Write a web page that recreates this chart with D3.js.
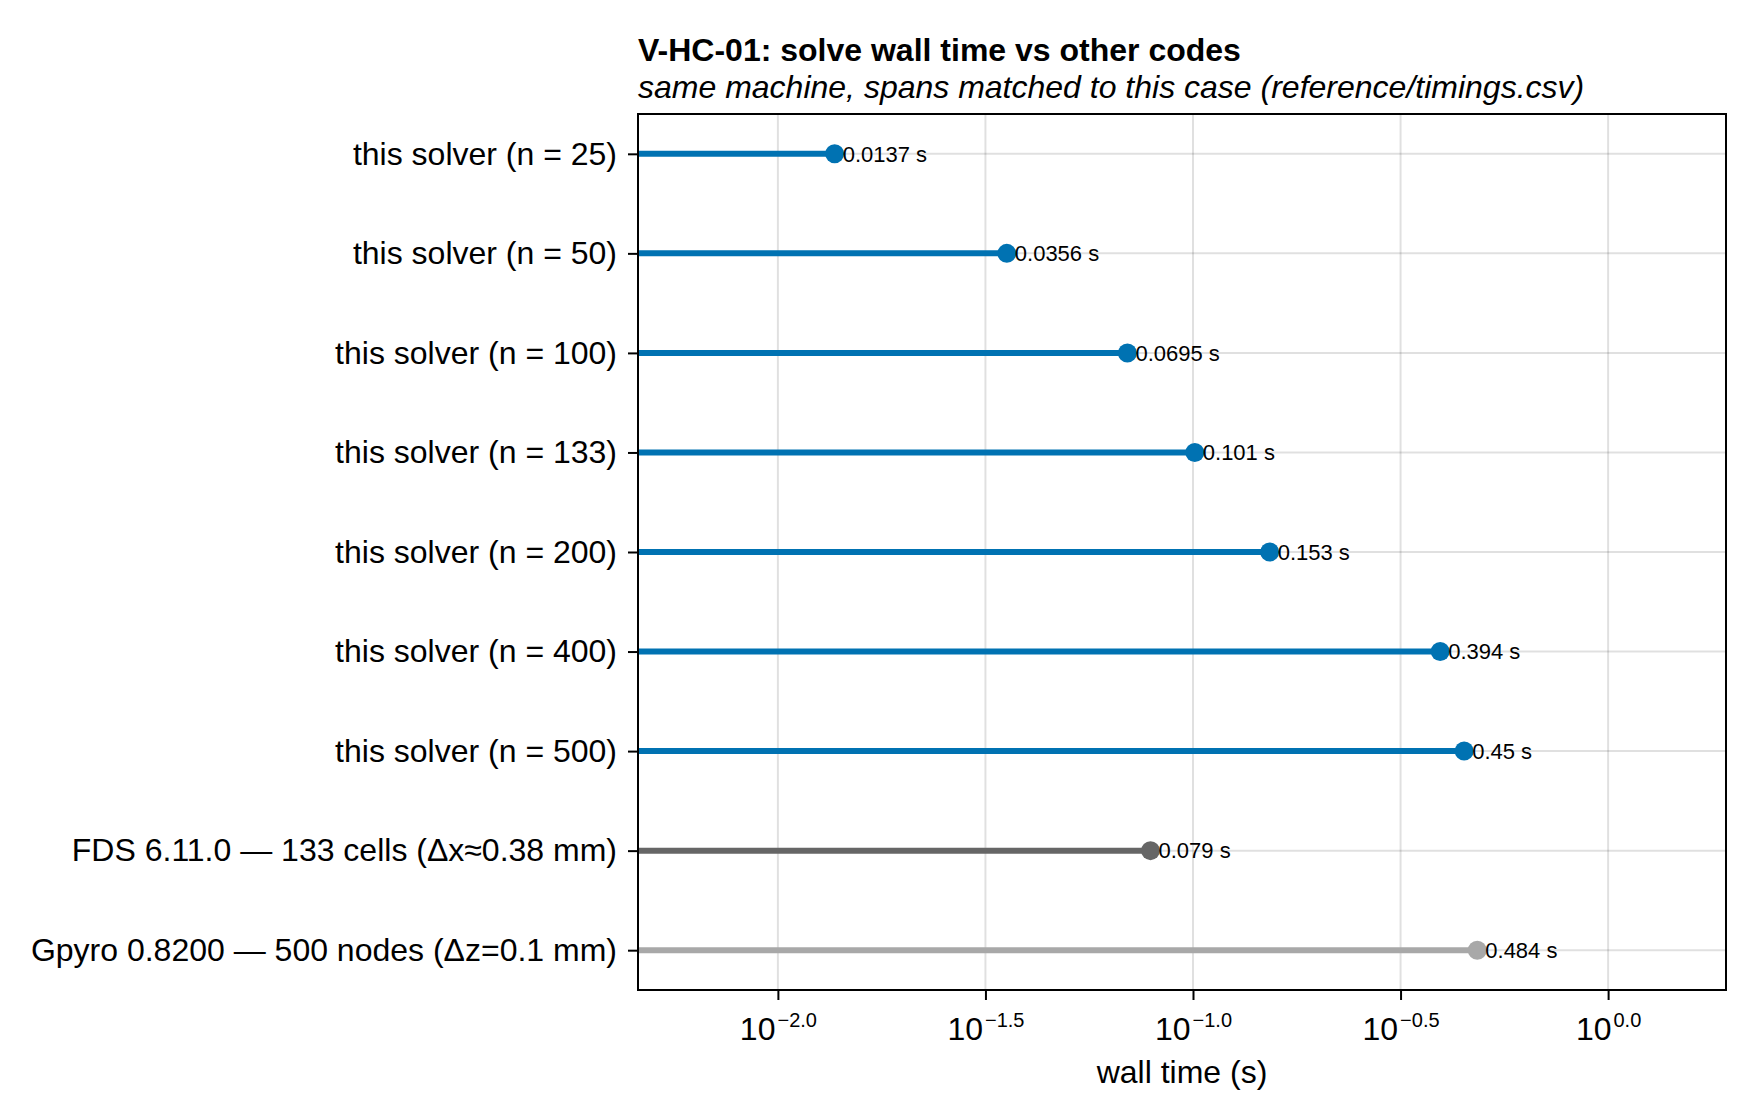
<!DOCTYPE html>
<html>
<head>
<meta charset="utf-8">
<script src="https://cdn.jsdelivr.net/npm/d3@7"></script>
<style>
  body { margin: 0; background: #fff; }
  text { font-family: "Liberation Sans", Arial, Helvetica, sans-serif; }
</style>
</head>
<body>
<div id="chart"></div>
<script>
// wall time per run
var categories = [
  'this solver (n = 25)',
  'this solver (n = 50)',
  'this solver (n = 100)',
  'this solver (n = 133)',
  'this solver (n = 200)',
  'this solver (n = 400)',
  'this solver (n = 500)',
  'FDS 6.11.0 \u2014 133 cells (\u0394x\u22480.38 mm)',
  'Gpyro 0.8200 \u2014 500 nodes (\u0394z=0.1 mm)'
];
var groups = ['solver', 'solver', 'solver', 'solver', 'solver', 'solver', 'solver', 'fds', 'gpyro'];
var wallTimes = [0.0137, 0.0356, 0.0695, 0.101, 0.153, 0.394, 0.45, 0.079, 0.484];
var valueLabels = ['0.0137 s', '0.0356 s', '0.0695 s', '0.101 s', '0.153 s', '0.394 s', '0.45 s', '0.079 s', '0.484 s'];

var xTickExps = [-2, -1.5, -1, -0.5, 0];
var xTickLabels = ['\u22122.0', '\u22121.5', '\u22121.0', '\u22120.5', '0.0'];
var xLimitExps = [-2.337, 0.284];

var groupColors = { solver: '#0072B2', fds: '#666666', gpyro: '#A8A8A8' };

var width = 1760, height = 1120;
var margin = { top: 114, right: 34, bottom: 130, left: 638 };
var innerW = width - margin.left - margin.right;
var innerH = height - margin.top - margin.bottom;

var svg = d3.select('#chart').append('svg')
  .attr('width', width)
  .attr('height', height);

svg.append('rect').attr('width', width).attr('height', height).attr('fill', '#fff');

var g = svg.append('g').attr('transform', 'translate(' + margin.left + ',' + margin.top + ')');

var x = d3.scaleLog()
  .domain(xLimitExps.map(function(e) { return Math.pow(10, e); }))
  .range([0, innerW]);

var y = d3.scalePoint()
  .domain(categories)
  .range([0, innerH])
  .padding(0.4);

var tickVals = xTickExps.map(function(e) { return Math.pow(10, e); });

// grid
g.append('g').selectAll('line.vg')
  .data(tickVals)
  .enter().append('line')
  .attr('x1', function(d) { return x(d); })
  .attr('x2', function(d) { return x(d); })
  .attr('y1', 0).attr('y2', innerH)
  .attr('stroke', 'rgba(0,0,0,0.12)').attr('stroke-width', 2);

g.append('g').selectAll('line.hg')
  .data(categories)
  .enter().append('line')
  .attr('x1', 0).attr('x2', innerW)
  .attr('y1', function(d) { return y(d); })
  .attr('y2', function(d) { return y(d); })
  .attr('stroke', 'rgba(0,0,0,0.12)').attr('stroke-width', 2);

var rows = categories.map(function(c, i) {
  return { cat: c, group: groups[i], value: wallTimes[i], label: valueLabels[i] };
});

// stems
g.append('g').selectAll('line')
  .data(rows)
  .enter().append('line')
  .attr('x1', 0)
  .attr('x2', function(d) { return x(d.value); })
  .attr('y1', function(d) { return y(d.cat); })
  .attr('y2', function(d) { return y(d.cat); })
  .attr('stroke', function(d) { return groupColors[d.group]; })
  .attr('stroke-width', 6);

// dots
g.append('g').selectAll('circle')
  .data(rows)
  .enter().append('circle')
  .attr('cx', function(d) { return x(d.value); })
  .attr('cy', function(d) { return y(d.cat); })
  .attr('r', 9.5)
  .attr('fill', function(d) { return groupColors[d.group]; });

// value labels
g.append('g').selectAll('text')
  .data(rows)
  .enter().append('text')
  .attr('x', function(d) { return x(d.value) + 8; })
  .attr('y', function(d) { return y(d.cat); })
  .attr('dy', '0.35em')
  .attr('font-size', 22)
  .attr('fill', '#000')
  .text(function(d) { return d.label; });

// frame
g.append('rect')
  .attr('width', innerW).attr('height', innerH)
  .attr('fill', 'none').attr('stroke', '#000').attr('stroke-width', 2);

// y axis
var yAxis = g.append('g')
  .call(d3.axisLeft(y).tickSize(10).tickPadding(11));
yAxis.select('.domain').remove();
yAxis.selectAll('.tick line').attr('stroke-width', 2);
yAxis.selectAll('.tick text').attr('font-size', 32).attr('font-family', null).attr('fill', '#000');

// x axis with 10^e labels
var xAxis = g.append('g')
  .attr('transform', 'translate(0,' + innerH + ')')
  .call(d3.axisBottom(x).tickValues(tickVals).tickSize(10).tickFormat(function() { return ''; }));
xAxis.select('.domain').remove();
xAxis.selectAll('.tick line').attr('stroke-width', 2);
xAxis.selectAll('.tick text').each(function(d, i) {
  var t = d3.select(this)
    .attr('y', 50).attr('dy', null)
    .attr('font-size', 32).attr('font-family', null).attr('fill', '#000');
  t.append('tspan').text('10');
  t.append('tspan').attr('dx', 2).attr('dy', -13).attr('font-size', 20).text(xTickLabels[i]);
});

// axis label
g.append('text')
  .attr('x', innerW / 2)
  .attr('y', innerH + 93)
  .attr('text-anchor', 'middle')
  .attr('font-size', 32)
  .text('wall time (s)');

// titles
svg.append('text')
  .attr('x', margin.left)
  .attr('y', 61)
  .attr('font-size', 32)
  .attr('font-weight', 'bold')
  .text('V-HC-01: solve wall time vs other codes');

svg.append('text')
  .attr('x', margin.left)
  .attr('y', 98)
  .attr('font-size', 32)
  .attr('font-style', 'italic')
  .text('same machine, spans matched to this case (reference/timings.csv)');
</script>
</body>
</html>
